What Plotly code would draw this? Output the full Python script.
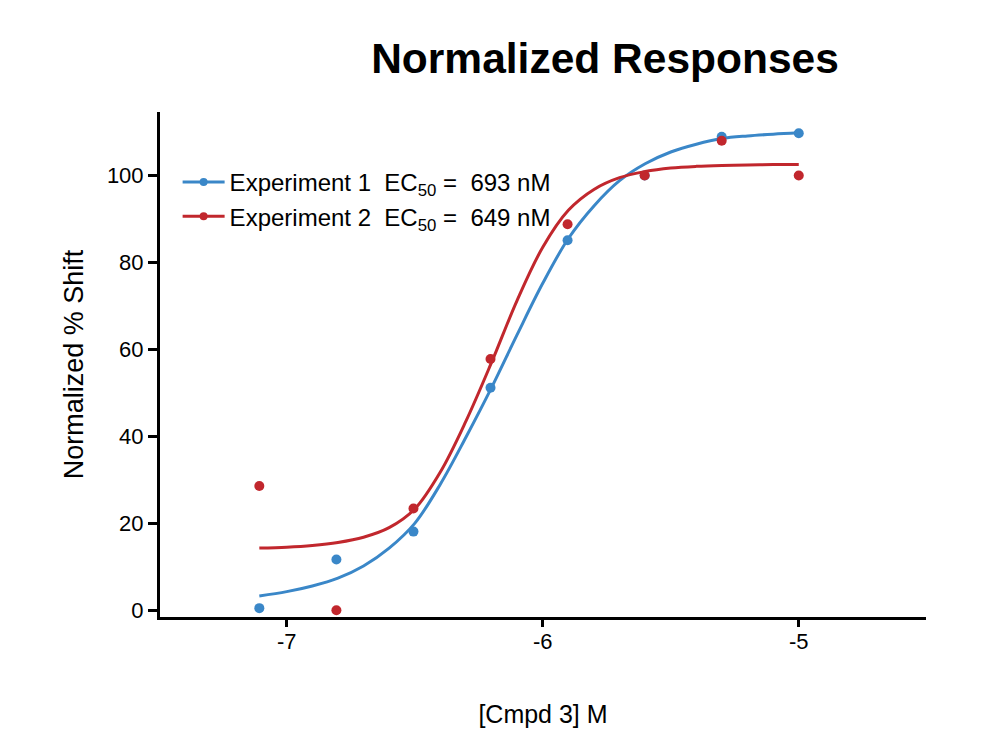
import plotly.graph_objects as go

# Measured data (log10 molar concentration)
log_conc = [-7.107, -6.806, -6.505, -6.204, -5.903, -5.602, -5.301, -5.0]
exp1_resp = [0.5, 11.7, 18.1, 51.2, 85.1, 100.0, 108.9, 109.7]
exp2_resp = [28.6, 0.0, 23.4, 57.8, 88.8, 100.0, 108.0, 100.0]

# Fitted curves
fit_x = [-7.107, -7.0, -6.9, -6.8, -6.7, -6.6, -6.5, -6.4, -6.3, -6.2, -6.1,
         -6.0, -5.9, -5.8, -5.7, -5.6, -5.5, -5.4, -5.3, -5.2, -5.1, -5.0]
fit1_y = [3.3, 4.3, 5.6, 7.4, 10.2, 14.3, 20.0, 29.0, 39.8, 51.2, 63.4,
          75.2, 85.5, 93.0, 98.8, 102.7, 105.4, 107.2, 108.5, 109.1, 109.5, 109.8]
fit2_y = [14.3, 14.5, 14.9, 15.6, 16.8, 19.0, 23.3, 31.8, 43.5, 57.0, 71.3,
          83.5, 92.0, 96.8, 99.5, 100.9, 101.7, 102.1, 102.3, 102.4, 102.5, 102.5]

legend_names = ["Experiment 1\u00a0 EC<sub>50</sub> =\u00a0 693 nM",
                "Experiment 2\u00a0 EC<sub>50</sub> =\u00a0 649 nM"]
x_ticks = [-7, -6, -5]
y_ticks = [0, 20, 40, 60, 80, 100]

BLUE = "#3a87c8"
RED = "#c1272d"
FONT = "Liberation Sans, Arial, sans-serif"

W, H = 982, 723  # page body adds an 8px margin inside the 990x731 window

fig = go.Figure()

for xs, ys, fy, col, name in [
    (log_conc, exp1_resp, fit1_y, BLUE, legend_names[0]),
    (log_conc, exp2_resp, fit2_y, RED, legend_names[1]),
]:
    fig.add_trace(go.Scatter(x=fit_x, y=fy, mode="lines",
                             line=dict(color=col, width=3, shape="spline", smoothing=1),
                             showlegend=False, hoverinfo="skip"))
    fig.add_trace(go.Scatter(x=xs, y=ys, mode="markers",
                             marker=dict(color=col, size=10),
                             showlegend=False))
    fig.add_trace(go.Scatter(x=[None], y=[None], mode="lines+markers",
                             line=dict(color=col, width=3),
                             marker=dict(color=col, size=8),
                             name=name))

fig.update_layout(
    width=W, height=H,
    margin=dict(l=152, r=64, t=104, b=114),
    paper_bgcolor="white", plot_bgcolor="white",
    font=dict(family=FONT, color="black", size=22),
    title=dict(text="<b>Normalized Responses</b>", x=597 / W, xanchor="center",
               y=1 - 50 / H, yanchor="middle", yref="container",
               font=dict(size=42.5, family=FONT, color="black")),
    legend=dict(x=0.023, y=0.905, xanchor="left", yanchor="top",
                bgcolor="rgba(0,0,0,0)", font=dict(size=24, family=FONT),
                tracegroupgap=0, itemwidth=42),
    showlegend=True,
)

fig.update_xaxes(range=[-7.495, -4.503], tickvals=x_ticks, ticktext=[str(v) for v in x_ticks],
                 showgrid=False, zeroline=False, showline=True, linecolor="black",
                 linewidth=3, ticks="outside", ticklen=7, tickwidth=3, tickcolor="black",
                 tickfont=dict(size=22), ticklabelstandoff=-4, automargin=False,
                 title=dict(text="[Cmpd 3] M", font=dict(size=25), standoff=53))
fig.update_yaxes(range=[-1.54, 114.6], tickvals=y_ticks, ticktext=[str(v) for v in y_ticks],
                 showgrid=False, zeroline=False, showline=True, linecolor="black",
                 linewidth=3, ticks="outside", ticklen=9, tickwidth=3, tickcolor="black",
                 tickfont=dict(size=22), automargin=False,
                 title=dict(text="Normalized % Shift", font=dict(size=27), standoff=16))

fig.write_html("out.html")
